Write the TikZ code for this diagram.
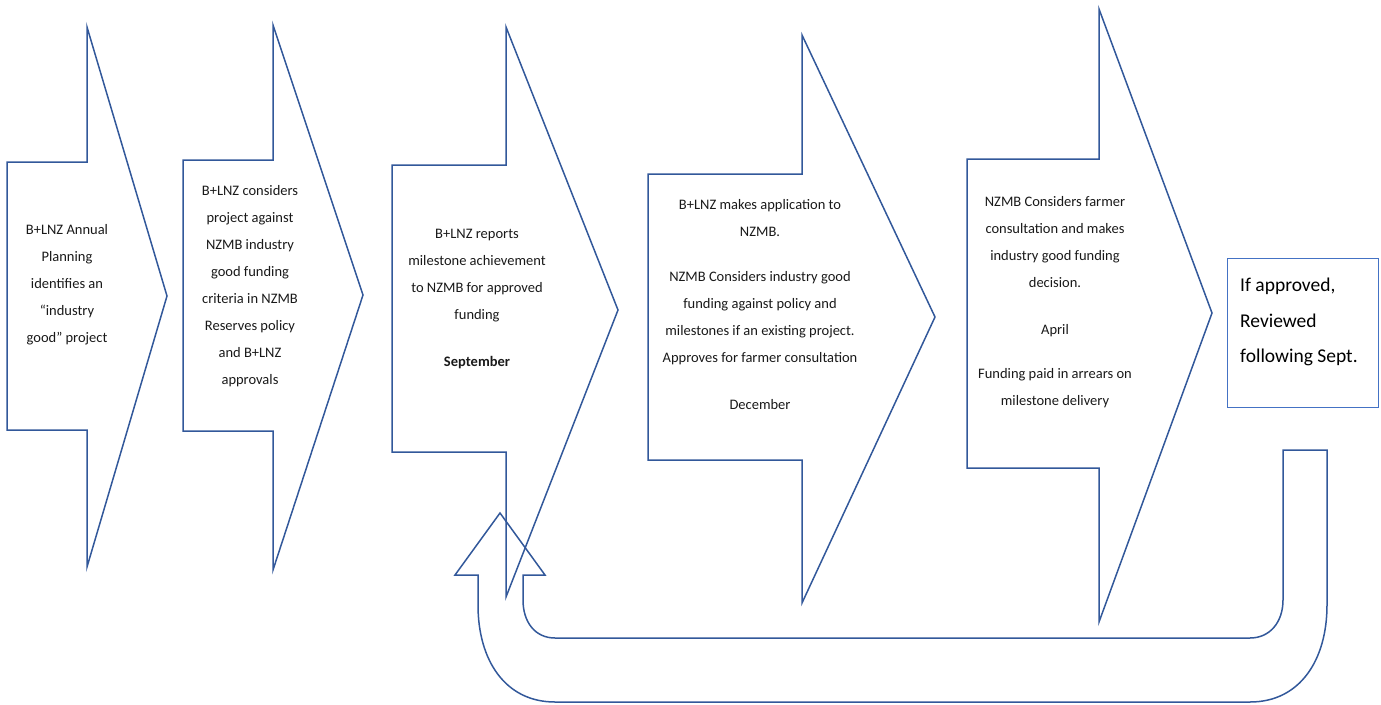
\documentclass[tikz,border=0pt]{standalone}
\usepackage{fontspec}
\setmainfont{Carlito}
\definecolor{arrowblue}{RGB}{50,88,154}
\definecolor{boxblue}{RGB}{68,114,196}
\definecolor{txt}{RGB}{25,25,25}
\tikzset{
  chev/.style={draw=arrowblue,line width=1.5pt,line join=miter},
  steptext/.style={align=center,font=\fontsize{14.5}{27}\selectfont,text=txt,inner sep=0pt},
  boxtext/.style={align=left,font=\fontsize{19.5}{35.5}\selectfont,text=black,inner sep=0pt}
}
\begin{document}
\begin{tikzpicture}[x=1pt,y=-1pt]
\useasboundingbox (0,0) rectangle (1381,704);
% chevron arrows
\draw[chev] (7,162) -- (87,162) -- (87,27) -- (167,296) -- (87,567) -- (87,430) -- (7,430) -- cycle;
\draw[chev] (183,160) -- (273,160) -- (273,25) -- (363,295) -- (273,570) -- (273,431) -- (183,431) -- cycle;
\draw[chev] (392,165) -- (506,165) -- (506,27) -- (618,310) -- (506,597) -- (506,452) -- (392,452) -- cycle;
\draw[chev] (648,174) -- (802,174) -- (802,35) -- (935,317) -- (802,603) -- (802,460) -- (648,460) -- cycle;
\draw[chev] (967,159) -- (1099,159) -- (1099,9) -- (1212,313) -- (1099,622) -- (1099,468) -- (967,468) -- cycle;
% result box
\node[draw=boxblue,line width=1pt,minimum width=151pt,minimum height=149pt,inner sep=0pt] (box) at (1302.5,332.5) {};
% U-turn arrow
\draw[chev] (1283,450) -- (1327,450) -- (1327,605) .. controls (1327,660) and (1300,702) .. (1250,702) -- (555,702) .. controls (505,702) and (478,660) .. (478,605) -- (478,575) -- (455,575) -- (500,513) -- (545,575) -- (523,575) -- (523,600) .. controls (523,622) and (535,638) .. (555,638) -- (1250,638) .. controls (1270,638) and (1283,622) .. (1283,600) -- cycle;
% texts
\node[steptext] (t1) at (67,285) {B+LNZ Annual\\Planning\\identifies an\\“industry\\good” project};
\node[steptext] (t2) at (250,286) {B+LNZ considers\\project against\\NZMB industry\\good funding\\criteria in NZMB\\Reserves policy\\and B+LNZ\\approvals};
\node[steptext] (t3) at (477,299) {B+LNZ reports\\milestone achievement\\to NZMB for approved\\funding\\[20pt]\textbf{September}};
\node[steptext] (t4) at (760,305) {B+LNZ makes application to\\NZMB.\\[18pt]NZMB Considers industry good\\funding against policy and\\milestones if an existing project.\\Approves for farmer consultation\\[20pt]December};
\node[steptext] (t5) at (1055,302) {NZMB Considers farmer\\consultation and makes\\industry good funding\\decision.\\[20pt]April\\[17pt]Funding paid in arrears on\\milestone delivery};
\node[boxtext,anchor=west] (bt) at (1240,322) {If approved,\\Reviewed\\following Sept.};
\end{tikzpicture}
\end{document}
